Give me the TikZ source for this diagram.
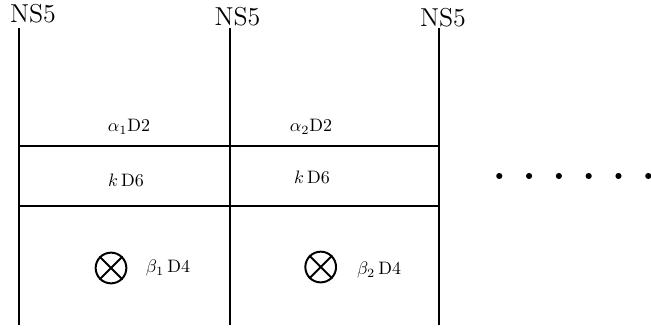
\documentclass[tikz,border=0pt]{standalone}
\usepackage{tikz}
\usetikzlibrary{calc}
\tikzset{
	brane/.style={line width=1.1pt},
	ns/.style={font=\Large,inner sep=0pt},
	lab/.style={inner sep=0pt},
	cross/.style={draw,circle,line width=1.1pt,minimum size=.6cm,inner sep=0pt}
}
\begin{document}
\begin{tikzpicture}
	\useasboundingbox (0,0) rectangle (12.714,6.406);
	
	%NS5 branes
	\foreach \x [count=\i] in {0.37,4.49,8.57}{
		\coordinate (t\i) at (\x,5.86);
		\coordinate (b\i) at (\x,0.06);
		\draw[brane] (t\i)--(b\i);
	}
	\node[ns] (ns1) at (0.645,6.13) {NS5};
	\node[ns] (ns2) at (4.638,6.09) {NS5};
	\node[ns] (ns3) at (8.652,6.07) {NS5};
	
	%horizontal lines
	\coordinate (u1) at (0.37,3.555);
	\coordinate (u3) at (8.57,3.555);
	\coordinate (l1) at (0.37,2.383);
	\coordinate (l3) at (8.57,2.383);
	\draw[brane] (u1)--(u3);
	\draw[brane] (l1)--(l3);
	
	%D2
	\node[lab] (a1) at (2.519,3.926) {$\alpha_1$D2};
	\node[lab] (a2) at (6.074,3.926) {$\alpha_2$D2};
	%D6
	\node[lab] (k1) at (2.461,2.890) {$k\,$D6};
	\node[lab] (k2) at (6.093,2.949) {$k\,$D6};
	
	%D4
	\foreach \x/\y/\n in {2.168/1.172/1,6.263/1.191/2}{
		\node[cross] (o\n) at (\x,\y) {};
		\draw[line width=1.1pt] (o\n.north west)--(o\n.south east);
		\draw[line width=1.1pt] (o\n.north east)--(o\n.south west);
	}
	\node[lab] (d1) at (3.281,1.172) {$\beta_1\,$D4};
	\node[lab] (d2) at (7.402,1.133) {$\beta_2\,$D4};
	
	%dots
	\foreach \x in {0,...,5}{
		\fill (9.751+\x*0.582,2.969) circle(.06);
	}
\end{tikzpicture}
\end{document}
